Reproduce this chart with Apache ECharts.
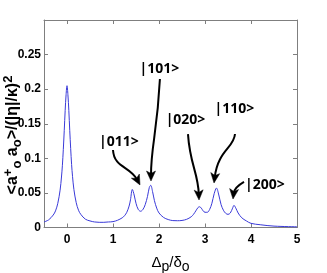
<!DOCTYPE html>
<html><head><meta charset="utf-8">
<script src="https://cdn.jsdelivr.net/npm/echarts@6.0.0/dist/echarts.min.js"></script>
<style>html,body{margin:0;padding:0;background:#fff}#c{width:327px;height:273px}</style>
</head><body><div id="c"></div>
<script>
// Curve: detuning Δp/δo and normalised population
var detuning = [-0.5,-0.4,-0.3,-0.25,-0.2,-0.15,-0.12,-0.1,-0.08,-0.06,-0.04,-0.02,0,0.02,0.04,0.06,0.08,0.1,0.12,0.15,0.2,0.25,0.3,0.4,0.5,0.6,0.7,0.8,0.9,1.0,1.1,1.2,1.25,1.3,1.35,1.38,1.42,1.46,1.5,1.55,1.6,1.65,1.7,1.75,1.79,1.82,1.86,1.9,1.95,2.0,2.1,2.2,2.3,2.4,2.5,2.6,2.7,2.75,2.8,2.85,2.88,2.92,2.96,3.0,3.05,3.1,3.15,3.2,3.25,3.3,3.35,3.4,3.45,3.5,3.55,3.6,3.63,3.67,3.72,3.8,3.9,4.0,4.2,4.5,5.0];
var population = [0.008,0.011,0.018,0.024,0.035,0.054,0.073,0.09,0.113,0.14,0.169,0.192,0.205,0.192,0.169,0.14,0.114,0.091,0.074,0.055,0.036,0.025,0.019,0.012,0.0095,0.008,0.0075,0.0075,0.008,0.0085,0.0105,0.014,0.017,0.022,0.031,0.040,0.055,0.047,0.035,0.026,0.0235,0.026,0.033,0.045,0.058,0.061,0.052,0.039,0.028,0.021,0.0145,0.0115,0.010,0.0098,0.0102,0.0118,0.0155,0.019,0.024,0.029,0.030,0.028,0.024,0.022,0.022,0.026,0.035,0.049,0.057,0.047,0.033,0.025,0.0205,0.019,0.021,0.028,0.032,0.028,0.021,0.014,0.0095,0.006,0.004,0.002,0.001];
var xTicks = [0,1,2,3,4,5];
var yTicks = [0,0.05,0.1,0.15,0.2,0.25,0.3];
var yTickLabels = ['0','0.05','0.1','0.15','0.2','0.25',''];
// Annotations (data coordinates)
var stateLabels = ['|011>','|101>','|020>','|110>','|200>'];
var labelPos = [[1.13,0.123],[2.01,0.229],[2.576,0.1547],[3.64,0.171],[4.30,0.062]];
// arrow: start, control1, control2, tip
var arrows = [
  [[1.0,0.112],[1.022,0.086],[1.37,0.089],[1.587,0.0615]],
  [[2.02,0.2147],[1.957,0.1337],[1.826,0.119],[1.826,0.0672]],
  [[2.63,0.135],[2.674,0.0904],[2.848,0.0802],[2.87,0.0398]],
  [[3.652,0.1352],[3.63,0.115],[3.283,0.112],[3.196,0.0643]],
  [[3.848,0.0658],[3.696,0.06],[3.63,0.054],[3.609,0.0412]]
];

var data = detuning.map(function(x,i){return [x,population[i]];});
var tickFont = 'Liberation Sans Narrow, Arial Narrow, Liberation Sans, sans-serif';
var axisCol = '#7f7f7f';
var chart = echarts.init(document.getElementById('c'), null, {renderer:'canvas'});
function xAx(pos, show){
  return {type:'value', position:pos, min:-0.5, max:5,
    axisLine:{show:true,onZero:false,lineStyle:{color:axisCol,width:1}},
    axisTick:{show:true,inside:true,length:4,customValues:xTicks,lineStyle:{color:axisCol}},
    axisLabel:{show:show,customValues:xTicks,color:'#000',fontFamily:tickFont,fontWeight:'bold',fontSize:12,margin:6},
    splitLine:{show:false},
    name: show ? 'Δ{sub|p}/δ{sub|o}' : '', nameLocation:'middle', nameGap:23,
    nameTextStyle:{color:'#000',fontFamily:tickFont,fontSize:15,rich:{sub:{fontSize:14,fontFamily:tickFont,verticalAlign:'bottom',padding:[10,0,0,0]}}}
  };
}
function yAx(pos, show){
  return {type:'value', position:pos, min:0, max:0.3,
    axisLine:{show:true,onZero:false,lineStyle:{color:axisCol,width:1}},
    axisTick:{show:true,inside:true,length:4,customValues:yTicks,lineStyle:{color:axisCol}},
    axisLabel:{show:show,customValues:yTicks,color:'#000',fontFamily:tickFont,fontWeight:'bold',fontSize:12,margin:3,
      formatter:function(v){var i=yTicks.indexOf(v);return i>=0?yTickLabels[i]:'';}},
    splitLine:{show:false}
  };
}
chart.setOption({
  animation:false,
  grid:{left:44,right:30,top:20,bottom:45.5,containLabel:false,outerBoundsMode:'none'},
  xAxis:[xAx('bottom',true), xAx('top',false)],
  yAxis:[yAx('left',true), yAx('right',false)],
  series:[{type:'line',data:data,showSymbol:false,smooth:0.35,lineStyle:{color:'#3a3ad8',width:1},xAxisIndex:0,yAxisIndex:0}]
});

function px(p){return chart.convertToPixel({gridIndex:0}, p);}
var g = [];
g.push({type:'text', x:13, y:135, rotation:Math.PI/2,
  style:{text:'<a{sp|+}{sb|o} a{sb|o}>/(|η|/κ){sp|2}', fill:'#000', font:'bold 16px "Liberation Sans", Arial, sans-serif',
    align:'center', verticalAlign:'middle',
    rich:{sp:{fontSize:13,fontWeight:'bold',fontFamily:'Liberation Sans',verticalAlign:'top',padding:[0,0,9,0]},
          sb:{fontSize:13,fontWeight:'bold',fontFamily:'Liberation Sans',verticalAlign:'bottom',padding:[8,0,0,0]}}}});
stateLabels.forEach(function(t,i){
  var c = px(labelPos[i]);
  g.push({type:'text', x:c[0], y:c[1], style:{text:t, fill:'#000', font:'bold 14px "Open Sans", sans-serif', align:'center', verticalAlign:'middle'}});
});
arrows.forEach(function(a){
  var p0=px(a[0]),p1=px(a[1]),p2=px(a[2]),p3=px(a[3]);
  var dx=p3[0]-p2[0], dy=p3[1]-p2[1], L=Math.sqrt(dx*dx+dy*dy); dx/=L; dy/=L;
  var hl=10, hw=4.5;
  var base=[p3[0]-dx*hl, p3[1]-dy*hl];
  var back=[p3[0]-dx*hl*0.75, p3[1]-dy*hl*0.75];
  g.push({type:'bezierCurve', shape:{x1:p0[0],y1:p0[1],cpx1:p1[0],cpy1:p1[1],cpx2:p2[0],cpy2:p2[1],x2:back[0]+dx*2,y2:back[1]+dy*2},
    style:{stroke:'#000',lineWidth:2,fill:null}});
  g.push({type:'polygon', shape:{points:[p3,[base[0]-dy*hw,base[1]+dx*hw],back,[base[0]+dy*hw,base[1]-dx*hw]]},
    style:{fill:'#000',stroke:'#000',lineWidth:0.5}});
});
chart.setOption({graphic:g});
</script></body></html>
